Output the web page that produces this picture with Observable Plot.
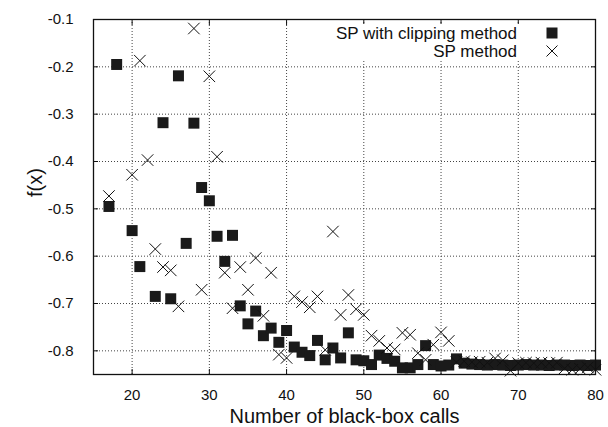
<!DOCTYPE html>
<html>
<head>
<meta charset="utf-8">
<script src="https://cdn.jsdelivr.net/npm/d3@7"></script>
<script src="https://cdn.jsdelivr.net/npm/@observablehq/plot@0.6"></script>
<style>
  html, body { margin: 0; padding: 0; background: #fff; }
  #wrap { position: relative; width: 608px; height: 427px; font-family: "Liberation Sans", Arial, Helvetica, sans-serif; }
  #legend { position: absolute; left: 330px; top: 24px; width: 246px; height: 35px; background: #fff; }
  .lrow { position: absolute; right: 59px; font-size: 17px; line-height: 17px; color: #111; white-space: nowrap; }
  .lsym { position: absolute; }
</style>
</head>
<body>
<div id="wrap"></div>
<script>
// ---- data ----
const clipX = [17,18,20,21,23,24,25,26,27,28,29,30,31,32,33,34,35,36,37,38,39,40,41,42,43,44,45,46,47,48,49,50,51,52,53,54,55,56,57,58,59,60,61,62,63,64,65,66,67,68,69,70,71,72,73,74,75,76,77,78,79,80];
const clipY = [-0.495,-0.195,-0.546,-0.622,-0.685,-0.318,-0.690,-0.219,-0.573,-0.319,-0.455,-0.483,-0.558,-0.611,-0.556,-0.705,-0.743,-0.716,-0.768,-0.752,-0.782,-0.757,-0.792,-0.803,-0.810,-0.778,-0.819,-0.794,-0.815,-0.762,-0.819,-0.821,-0.829,-0.809,-0.816,-0.822,-0.836,-0.836,-0.829,-0.789,-0.829,-0.832,-0.830,-0.817,-0.826,-0.828,-0.829,-0.830,-0.829,-0.830,-0.831,-0.830,-0.829,-0.830,-0.830,-0.831,-0.830,-0.830,-0.831,-0.830,-0.831,-0.830];
const spX = [17,20,21,22,23,24,25,26,28,29,30,31,32,33,34,35,36,37,38,39,40,41,42,43,44,45,46,47,48,49,50,51,52,53,54,55,56,57,58,59,60,61,62,63,64,65,66,67,68,69,70,71,72,73,74,75,76,77,78,79,80];
const spY = [-0.473,-0.428,-0.187,-0.397,-0.585,-0.623,-0.630,-0.706,-0.119,-0.671,-0.220,-0.390,-0.635,-0.710,-0.623,-0.671,-0.604,-0.726,-0.635,-0.808,-0.815,-0.685,-0.697,-0.708,-0.685,-0.798,-0.548,-0.724,-0.682,-0.712,-0.724,-0.768,-0.779,-0.794,-0.797,-0.762,-0.766,-0.805,-0.819,-0.787,-0.761,-0.779,-0.824,-0.822,-0.824,-0.823,-0.825,-0.816,-0.820,-0.842,-0.826,-0.825,-0.826,-0.825,-0.826,-0.825,-0.837,-0.840,-0.838,-0.835,-0.840];
const xTicks = [20,30,40,50,60,70,80];
const yTicks = [-0.8,-0.7,-0.6,-0.5,-0.4,-0.3,-0.2,-0.1];
const xGrid = [20,30,40,50,60,70];
const yGrid = [-0.8,-0.7,-0.6,-0.5,-0.4,-0.3,-0.2];
const seriesNames = ["SP with clipping method", "SP method"];
const xLabel = "Number of black-box calls";
const yLabel = "f(x)";

const clipData = clipX.map((x, i) => ({x, y: clipY[i]}));
const spData = spX.map((x, i) => ({x, y: spY[i]}));

const fmt = d => d.toFixed(1);

const chart = Plot.plot({
  width: 608,
  height: 427,
  marginLeft: 93,
  marginRight: 13,
  marginTop: 19,
  marginBottom: 53,
  style: {fontFamily: '"Liberation Sans", Arial, Helvetica, sans-serif', background: "#fff", color: "#111"},
  x: {domain: [15, 80]},
  y: {domain: [-0.85, -0.1]},
  marks: [
    Plot.gridX(xGrid, {stroke: "#444", strokeOpacity: 1, strokeDasharray: "1,2"}),
    Plot.gridY(yGrid, {stroke: "#444", strokeOpacity: 1, strokeDasharray: "1,2"}),
    Plot.axisX(xTicks, {anchor: "bottom", tickSize: 0, tickPadding: 15, fontSize: 15, label: null}),
    Plot.axisY(yTicks, {anchor: "left", tickSize: 0, tickPadding: 20, fontSize: 15, tickFormat: fmt, label: null}),
    Plot.axisX(xTicks, {anchor: "bottom", tickSize: -5, tickFormat: () => "", label: null, stroke: "#111"}),
    Plot.axisX(xTicks, {anchor: "top", tickSize: -5, tickFormat: () => "", label: null, stroke: "#111"}),
    Plot.axisY(yTicks, {anchor: "left", tickSize: -5, tickFormat: () => "", label: null, stroke: "#111"}),
    Plot.axisY(yTicks, {anchor: "right", tickSize: -5, tickFormat: () => "", label: null, stroke: "#111"}),
    Plot.dot(clipData, {x: "x", y: "y", symbol: "square", r: 6.2, fill: "#1a1a1a", stroke: "none"}),
    Plot.dot(spData, {x: "x", y: "y", symbol: "times", r: 5.3, stroke: "#111", strokeWidth: 1}),
    Plot.frame({stroke: "#111", strokeWidth: 1.3}),
    Plot.text([xLabel], {frameAnchor: "bottom", dy: 48, lineAnchor: "bottom", fontSize: 20, fill: "#111"}),
    Plot.text([yLabel], {frameAnchor: "left", dx: -58, rotate: -90, fontSize: 20, fill: "#111"})
  ]
});

const wrap = document.getElementById("wrap");
wrap.appendChild(chart);

// legend (opaque key box like the original)
const legend = document.createElement("div");
legend.id = "legend";
const r1 = document.createElement("div");
r1.className = "lrow"; r1.style.top = "1px"; r1.textContent = seriesNames[0];
const r2 = document.createElement("div");
r2.className = "lrow"; r2.style.top = "19px"; r2.textContent = seriesNames[1];
legend.appendChild(r1); legend.appendChild(r2);
const ns = "http://www.w3.org/2000/svg";
const s1 = document.createElementNS(ns, "svg");
s1.setAttribute("width", "14"); s1.setAttribute("height", "14");
s1.setAttribute("class", "lsym"); s1.style.left = "215px"; s1.style.top = "2px";
const rect = document.createElementNS(ns, "rect");
rect.setAttribute("x", "1.5"); rect.setAttribute("y", "1.5"); rect.setAttribute("width", "11"); rect.setAttribute("height", "11");
rect.setAttribute("fill", "#1a1a1a");
s1.appendChild(rect);
const s2 = document.createElementNS(ns, "svg");
s2.setAttribute("width", "14"); s2.setAttribute("height", "14");
s2.setAttribute("class", "lsym"); s2.style.left = "215px"; s2.style.top = "20px";
const path = document.createElementNS(ns, "path");
path.setAttribute("d", "M1.5,1.5L12.5,12.5M1.5,12.5L12.5,1.5");
path.setAttribute("stroke", "#111"); path.setAttribute("stroke-width", "1"); path.setAttribute("fill", "none");
s2.appendChild(path);
legend.appendChild(s1); legend.appendChild(s2);
wrap.appendChild(legend);
</script>
</body>
</html>
